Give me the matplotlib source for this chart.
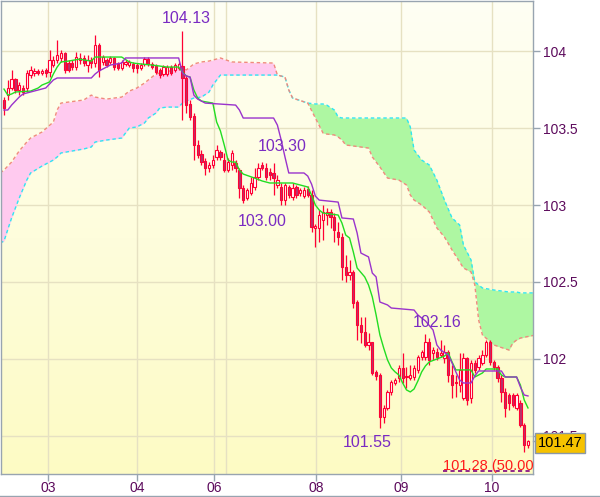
import matplotlib
matplotlib.use('Agg')
import matplotlib.pyplot as plt
import numpy as np
from matplotlib.colors import LinearSegmentedColormap
from matplotlib.lines import Line2D

plt.rcParams['font.family'] = ['Liberation Sans', 'DejaVu Sans']

# ---------------- data (hourly candles) ----------------
opens = [103.682,103.714,103.760,103.818,103.747,103.760,103.760,103.844,103.857,103.870,
         103.857,103.877,103.864,103.909,103.942,103.955,103.987,103.922,103.922,103.896,
         103.942,103.955,103.909,103.942,103.922,104.039,103.929,103.942,103.929,103.955,
         103.916,103.890,103.916,103.909,103.916,103.909,103.890,103.916,103.948,103.916,
         103.903,103.877,103.851,103.851,103.896,103.877,103.890,103.903,103.825,103.656,
         103.578,103.390,103.331,103.286,103.240,103.260,103.312,103.344,103.292,103.227,
         103.260,103.273,103.227,103.110,103.045,103.078,103.117,103.182,103.260,103.240,
         103.214,103.208,103.130,103.117,103.032,103.117,103.052,103.117,103.078,103.058,
         103.104,103.065,102.851,102.851,102.903,102.935,102.955,102.922,102.825,102.792,
         102.597,102.545,102.565,102.370,102.221,102.175,102.091,102.110,101.916,101.896,
         101.623,101.682,101.786,101.844,101.877,101.942,101.883,101.877,101.883,101.929,
         102.013,102.013,102.110,102.039,102.045,102.026,102.006,102.045,101.896,101.851,
         101.831,101.747,102.006,101.747,101.974,101.948,101.974,102.026,102.110,101.981,
         101.948,101.877,101.786,101.766,101.766,101.682,101.714,101.571,101.442]
closes = [103.630,103.760,103.818,103.747,103.779,103.734,103.857,103.877,103.870,103.857,
          103.870,103.857,103.942,103.942,103.974,103.987,103.877,103.877,103.896,103.961,
          103.955,103.922,103.942,103.922,104.039,103.877,103.961,103.909,103.955,103.896,
          103.890,103.929,103.929,103.929,103.890,103.890,103.909,103.948,103.916,103.896,
          103.864,103.844,103.896,103.896,103.857,103.909,103.916,103.825,103.649,103.571,
          103.390,103.325,103.279,103.240,103.260,103.292,103.357,103.312,103.227,103.279,
          103.338,103.240,103.110,103.032,103.097,103.143,103.182,103.240,103.240,103.182,
          103.195,103.175,103.162,103.032,103.130,103.065,103.110,103.065,103.097,103.097,
          103.065,102.857,102.864,102.935,102.955,102.955,102.922,102.838,102.792,102.597,
          102.545,102.565,102.364,102.221,102.175,102.091,102.110,101.909,101.890,101.623,
          101.682,101.786,101.851,101.864,101.942,101.877,101.890,101.896,101.942,102.013,
          102.045,102.110,101.994,102.058,102.013,102.039,102.045,101.896,101.831,101.844,
          101.929,102.006,101.734,101.974,101.929,102.006,102.026,102.110,101.981,101.948,
          101.877,101.786,101.682,101.714,101.701,101.766,101.571,101.442,101.470]
highs = [103.701,103.812,103.877,103.825,103.799,103.779,103.877,103.903,103.890,103.883,
         103.883,103.890,104.006,103.968,104.071,104.006,103.994,103.942,103.942,103.994,
         103.987,103.974,103.974,103.961,104.104,104.052,103.974,103.955,103.968,103.961,
         103.929,103.942,103.942,103.942,103.929,103.922,103.922,103.961,103.961,103.929,
         103.916,103.890,103.909,103.909,103.909,103.922,103.929,104.130,103.844,103.682,
         103.597,103.422,103.357,103.305,103.279,103.325,103.390,103.357,103.338,103.305,
         103.357,103.292,103.240,103.130,103.110,103.182,103.240,103.273,103.279,103.273,
         103.240,103.273,103.195,103.143,103.143,103.130,103.143,103.130,103.110,103.117,
         103.123,103.097,102.877,102.968,103.000,102.981,102.974,102.948,102.890,102.818,
         102.675,102.643,102.578,102.383,102.273,102.273,102.169,102.110,101.929,101.909,
         101.701,101.799,101.864,101.877,101.961,102.039,101.948,101.961,101.961,102.026,
         102.058,102.160,102.136,102.078,102.071,102.123,102.091,102.058,101.961,101.896,
         102.039,102.039,102.013,101.994,101.994,102.026,102.058,102.123,102.123,101.994,
         101.961,101.896,101.812,101.779,101.779,101.779,101.734,101.584,101.474]
lows = [103.584,103.682,103.747,103.727,103.714,103.714,103.734,103.825,103.838,103.844,
        103.844,103.831,103.831,103.896,103.922,103.929,103.857,103.864,103.877,103.877,
        103.916,103.903,103.864,103.890,103.896,103.831,103.909,103.896,103.916,103.877,
        103.877,103.877,103.903,103.896,103.864,103.857,103.877,103.903,103.903,103.883,
        103.851,103.825,103.838,103.838,103.844,103.864,103.877,103.552,103.597,103.552,
        103.292,103.305,103.260,103.195,103.214,103.240,103.292,103.292,103.214,103.214,
        103.227,103.214,103.045,103.013,103.032,103.065,103.097,103.162,103.227,103.162,
        103.162,103.065,103.110,103.000,103.000,103.045,103.032,103.045,103.058,103.045,
        103.052,102.825,102.727,102.760,102.773,102.870,102.851,102.760,102.740,102.513,
        102.500,102.513,102.331,102.123,102.104,102.078,102.058,101.896,101.864,101.550,
        101.584,101.669,101.766,101.831,101.851,101.844,101.812,101.864,101.864,101.909,
        101.994,101.994,101.961,101.994,101.994,102.013,101.974,101.851,101.747,101.753,
        101.786,101.734,101.701,101.714,101.909,101.929,101.961,102.013,101.961,101.929,
        101.851,101.721,101.623,101.669,101.688,101.669,101.558,101.396,101.422]

# Tenkan-sen (green) vertices: candle index / price
tenkan_idx = [0,1,2,3,7,9,10,12,13,14,15,17,20,21,23,24,31,33,34,36,39,43,46,47,48,49,50,51,52,55,
              56,57,58,59,60,61,62,63,66,68,70,76,78,80,81,82,83,84,88,89,90,91,92,93,95,96,97,98,99,100,
              101,102,103,104,105,106,107,108,109,110,111,112,114,116,117,118,119,123,124,126,
              127,130,131,132,135,136,137,138]
tenkan_val = [103.753,103.714,103.721,103.734,103.740,103.760,103.779,103.799,103.851,103.896,
              103.929,103.935,103.948,103.942,103.935,103.961,103.961,103.929,103.922,103.916,
              103.909,103.896,103.896,103.864,103.838,103.831,103.747,103.695,103.675,103.662,
              103.539,103.481,103.390,103.292,103.279,103.279,103.227,103.201,103.175,103.156,
              103.143,103.143,103.130,103.117,103.065,103.000,102.968,102.948,102.935,102.883,
              102.805,102.786,102.695,102.591,102.533,102.481,102.403,102.286,102.156,102.071,
              101.994,101.942,101.916,101.896,101.844,101.799,101.786,101.805,101.857,101.916,
              101.955,101.981,102.000,102.019,102.039,101.981,101.929,101.929,101.883,101.909,
              101.935,101.935,101.896,101.883,101.883,101.831,101.734,101.682]

# Kijun-sen (purple) vertices
kijun_idx = [0,1,2,3,4,5,7,11,12,13,14,23,24,25,26,27,28,31,32,46,
             47,48,49,50,51,52,53,61,62,63,71,72,73,74,75,79,80,81,82,83,
             88,89,92,93,94,96,97,98,99,101,102,108,109,110,111,113,114,115,117,118,
             119,120,121,123,124,125,131,132,135,136,137,138]
kijun_val = [103.617,103.617,103.649,103.675,103.701,103.721,103.734,103.760,103.786,103.812,
             103.825,103.825,103.851,103.870,103.883,103.896,103.909,103.922,103.955,103.955,
             103.857,103.838,103.831,103.714,103.688,103.675,103.662,103.649,103.617,103.565,
             103.565,103.519,103.422,103.312,103.208,103.208,103.188,103.136,103.058,103.032,
             103.019,102.916,102.909,102.818,102.688,102.663,102.558,102.533,102.370,102.351,
             102.331,102.318,102.286,102.266,102.247,102.188,102.091,102.058,102.026,101.974,
             101.916,101.864,101.844,101.844,101.890,101.922,101.922,101.883,101.883,101.818,
             101.766,101.760]

# Cloud (Senkou span A = salmon, Senkou span B = cyan), shifted ahead
cloud_idx = [-1,0,2,4,6,7,10,13,14,15,21,23,24,27,31,33,35,37,38,40,
             41,43,46,47,48,50,52,54,55,56,57,60,71,72,74,75,76,80,82,84,
             85,87,88,89,90,96,97,99,101,104,106,107,108,110,112,114,116,118,120,121,
             123,124,125,126,129,133,134,135,136,140]
span_a = [103.208,103.227,103.279,103.351,103.409,103.435,103.474,103.539,103.617,103.662,
          103.682,103.714,103.701,103.688,103.701,103.740,103.760,103.792,103.812,103.851,
          103.857,103.864,103.896,103.896,103.877,103.916,103.929,103.935,103.942,103.948,
          103.955,103.929,103.922,103.844,103.831,103.747,103.695,103.662,103.565,103.468,
          103.461,103.455,103.442,103.422,103.390,103.370,103.312,103.247,103.175,103.162,
          103.130,103.065,103.032,103.000,102.955,102.851,102.792,102.708,102.630,102.591,
          102.565,102.481,102.253,102.156,102.091,102.058,102.104,102.123,102.136,102.156]
span_b = [102.753,102.766,102.916,103.045,103.162,103.208,103.253,103.292,103.312,103.338,
          103.364,103.377,103.409,103.422,103.435,103.500,103.507,103.533,103.565,103.597,
          103.630,103.636,103.636,103.662,103.675,103.695,103.701,103.734,103.779,103.812,
          103.844,103.844,103.844,103.844,103.831,103.747,103.695,103.662,103.656,103.656,
          103.649,103.617,103.572,103.565,103.565,103.565,103.565,103.565,103.565,103.565,
          103.565,103.507,103.357,103.292,103.260,103.162,103.032,102.916,102.870,102.740,
          102.643,102.500,102.481,102.461,102.448,102.435,102.435,102.435,102.429,102.429]

day_labels = ['03', '04', '06', '08', '09', '10']
day_pos = [11.6, 35.0, 55.3, 82.2, 104.6, 128.5]
extra_vgrid = [58.5]
price_ticks = [104, 103.5, 103, 102.5, 102, 101.5]
price_tick_labels = ['104', '103.5', '103', '102.5', '102', '101.5']

marker_texts = ['104.13', '103.30', '103.00', '101.55', '102.16']
marker_idx = [48.1, 73.2, 67.9, 95.6, 114.0]
marker_price = [104.214, 103.383, 102.890, 101.455, 102.234]

last_price = 101.47
fib_price = 101.27
fib_text = '101.28 (50.00%)'
fib_start = 115.6

# ---------------- figure ----------------
XMIN, XMAX = -0.79, 139.32
YMIN, YMAX = 101.253, 104.325

fig = plt.figure(figsize=(6, 4.97), dpi=100)
fig.patch.set_facecolor('white')
ax = fig.add_axes([1/600, 23/497, 532/600, 473/497])
ax.set_xlim(XMIN, XMAX)
ax.set_ylim(YMIN, YMAX)

# background gradient
cmap = LinearSegmentedColormap.from_list('bg', ['#FDFBC4', '#FFFFF4'])
grad = np.linspace(0, 1, 256).reshape(-1, 1)
ax.imshow(grad, extent=[XMIN, XMAX, YMIN, YMAX], origin='lower', aspect='auto',
          cmap=cmap, zorder=0, interpolation='bilinear')

# grid
for p in price_ticks:
    ax.axhline(p, color='#E6E1C2', lw=1.0, zorder=0.5)
for d in day_pos + extra_vgrid:
    ax.axvline(d, color='#E6E1C2', lw=1.0, zorder=0.5)

# cloud
cx = np.array(cloud_idx, dtype=float)
ca = np.array(span_a)
cb = np.array(span_b)
ax.fill_between(cx, ca, cb, where=ca >= cb, interpolate=True, color='#FFCAEF', lw=0, zorder=1)
ax.fill_between(cx, ca, cb, where=cb > ca, interpolate=True, color='#AEF7A2', lw=0, zorder=1)
ax.plot(cx, cb, color='#2EE6F2', lw=1.0, ls=(0, (2.5, 2)), zorder=2)
ax.plot(cx, ca, color='#F08A7E', lw=1.0, ls=(0, (2.5, 2)), zorder=2)

# candles
o = np.array(opens); c = np.array(closes); h = np.array(highs); l = np.array(lows)
idx = np.arange(len(o))
ax.vlines(idx, l, h, color='#FF0033', lw=0.9, zorder=3)
up = c >= o
ax.bar(idx[up], (c - o)[up], bottom=o[up], width=0.6, color='white',
       edgecolor='#FF0033', linewidth=0.8, zorder=4)
ax.bar(idx[~up], (o - c)[~up], bottom=c[~up], width=0.6, color='#B8336C',
       edgecolor='#FF0033', linewidth=0.8, zorder=4)

# Tenkan / Kijun
ax.plot(tenkan_idx, tenkan_val, color='#22DD22', lw=1.0, zorder=5)
ax.plot(kijun_idx, kijun_val, color='#9A33CC', lw=1.0, zorder=6)

# high/low markers
for t, xi, pr in zip(marker_texts, marker_idx, marker_price):
    ax.text(xi, pr, t, color='#7A2BC2', fontsize=11.5, ha='center', va='center', zorder=7)

# fibonacci level at the bottom
ax.hlines(fib_price, fib_start, XMAX, colors='#800080', linestyles=(0, (2.5, 2)), lw=1.2, zorder=7)
ax.text(fib_start, fib_price + 0.035, fib_text, color='#FF1A1A', fontsize=10.5,
        ha='left', va='center', zorder=7, clip_on=True)

# axes styling
for s in ax.spines.values():
    s.set_color('#98A4B0')
    s.set_linewidth(1.0)
ax.yaxis.tick_right()
ax.set_yticks(price_ticks)
ax.set_yticklabels(price_tick_labels)
ax.set_xticks(day_pos)
ax.set_xticklabels(day_labels)
ax.tick_params(axis='both', length=5, width=1, color='#98A4B0', labelcolor='#5C0A5C',
               labelsize=10)
ax.tick_params(axis='y', pad=2)
ax.tick_params(axis='x', pad=0)

# last price box (drawn over the partly hidden 101.5 label, as in the original)
ax.plot([XMAX, XMAX + 1.2], [last_price, last_price], color='#98A4B0', lw=1,
        clip_on=False, zorder=9)
ax.text(XMAX + 7.1, last_price - 0.015, f'{last_price:.2f}', color='black', fontsize=10.5,
        ha='center', va='center', zorder=10, clip_on=False,
        bbox=dict(boxstyle='square,pad=0.18', fc='#F6C200', ec='#8A98A8', lw=1))

# figure bottom border
fig.add_artist(Line2D([0, 1], [0.6/497, 0.6/497], transform=fig.transFigure,
                      color='#98A4B0', lw=1))

fig.savefig('out.png', dpi=100)
